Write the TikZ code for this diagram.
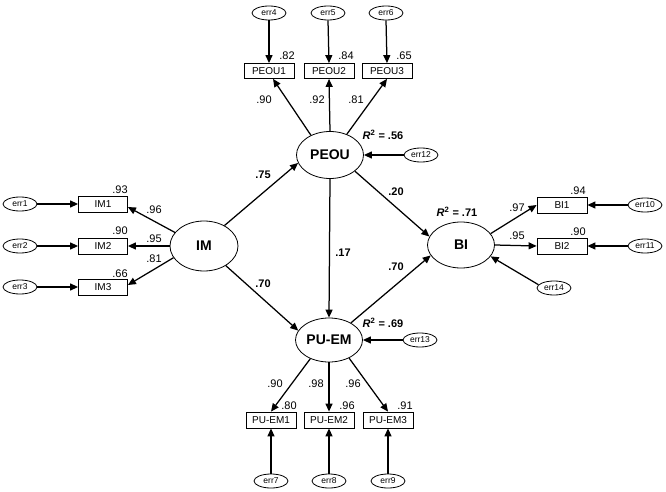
\documentclass[tikz,border=0pt]{standalone}
\usepackage{fontspec}
\setmainfont{Liberation Sans}
\usetikzlibrary{arrows.meta,shapes.geometric,calc}
\begin{document}
\begin{tikzpicture}[x=1pt,y=-1pt,
 lat/.style={ellipse,draw,line width=0.8pt,minimum width=67pt,minimum height=47pt,inner sep=0pt,font=\fontsize{14}{15}\selectfont\bfseries},
 ind/.style={rectangle,draw,line width=0.8pt,minimum width=50pt,minimum height=15pt,inner sep=0pt,font=\fontsize{10}{11}\selectfont},
 err/.style={ellipse,draw,line width=0.8pt,minimum width=34pt,minimum height=14pt,inner sep=0pt,font=\fontsize{8.5}{9}\selectfont},
 arr/.style={line width=1.25pt,-{Triangle[length=8pt,width=7pt]}},
 num/.style={font=\fontsize{11}{12}\selectfont,inner sep=0pt},
 bnum/.style={font=\fontsize{11}{12}\selectfont\bfseries,inner sep=0pt},
]
\useasboundingbox (0,0) rectangle (666,492);

% latent variables
\node[lat,minimum width=68pt,minimum height=50pt] (IM) at (204,246) {IM};
\node[lat] (PEOU) at (330,155) {PEOU};
\node[lat,minimum height=44pt] (PUEM) at (329,340) {PU-EM};
\node[lat,minimum height=46pt] (BI) at (461,245) {BI};

% indicators
\node[ind,minimum width=49pt,minimum height=16pt] (IM1) at (103,204) {IM1};
\node[ind,minimum width=49pt,minimum height=16pt] (IM2) at (103,246) {IM2};
\node[ind,minimum width=49pt,minimum height=16pt] (IM3) at (103,287) {IM3};
\node[ind] (PEOU1) at (269,71) {PEOU1};
\node[ind] (PEOU2) at (329,71) {PEOU2};
\node[ind] (PEOU3) at (387,71) {PEOU3};
\node[ind,minimum height=16pt] (PUEM1) at (271,420) {PU-EM1};
\node[ind,minimum height=16pt] (PUEM2) at (329,420) {PU-EM2};
\node[ind,minimum height=16pt] (PUEM3) at (388,420) {PU-EM3};
\node[ind,minimum height=16pt] (BI1) at (562,205) {BI1};
\node[ind,minimum height=16pt] (BI2) at (562,246) {BI2};

% error terms
\node[err] (e1) at (20,204) {err1};
\node[err] (e2) at (20,246) {err2};
\node[err] (e3) at (20,287) {err3};
\node[err] (e4) at (269,13) {err4};
\node[err] (e5) at (328,13) {err5};
\node[err] (e6) at (386,13) {err6};
\node[err] (e7) at (271,481) {err7};
\node[err] (e8) at (329,481) {err8};
\node[err] (e9) at (388,481) {err9};
\node[err] (e10) at (645,205) {err10};
\node[err] (e11) at (645,246) {err11};
\node[err] (e12) at (421,155) {err12};
\node[err] (e13) at (420,340) {err13};
\node[err] (e14) at (554,288) {err14};

% error arrows
\draw[arr] (e1.east) -- (IM1.west);
\draw[arr] (e2.east) -- (IM2.west);
\draw[arr] (e3.east) -- (IM3.west);
\draw[arr] (e4.south) -- (PEOU1.north);
\draw[arr] (e5.south) -- (PEOU2.north);
\draw[arr] (e6.south) -- (PEOU3.north);
\draw[arr] (e7.north) -- (PUEM1.south);
\draw[arr] (e8.north) -- (PUEM2.south);
\draw[arr] (e9.north) -- (PUEM3.south);
\draw[arr] (e10.west) -- (BI1.east);
\draw[arr] (e11.west) -- (BI2.east);
\draw[arr] (e12.west) -- (PEOU.east);
\draw[arr] (e13.west) -- (PUEM.east);
\draw[arr] (e14.168) -- (BI.339);

% loadings
\draw[arr] (IM.155) -- ($(IM1.east)+(0,3)$);
\draw[arr] (IM.west) -- (IM2.east);
\draw[arr] (IM.201) -- ($(IM3.east)+(0,-2)$);
\draw[arr] (PEOU.134) -- ($(PEOU1.south)+(4,0)$);
\draw[arr] (PEOU.north) -- (PEOU2.south);
\draw[arr] (PEOU.51) -- (PEOU3.south);
\draw[arr] (PUEM.225) -- (PUEM1.north);
\draw[arr] (PUEM.south) -- (PUEM2.north);
\draw[arr] (PUEM.318) -- (PUEM3.north);
\draw[arr] (BI.21) -- (BI1.west);
\draw[arr] (BI.east) -- (BI2.west);

% structural paths
\draw[arr] (IM.45) -- (PEOU.194);
\draw[arr] (IM.318) -- (PUEM.163);
\draw[arr] (PEOU.327) -- (BI.165);
\draw[arr] (PEOU.south) -- (PUEM.north);
\draw[arr] (PUEM.38) -- (BI.199);

% numbers
\node[num] (n1) at (120,190) {.93};
\node[num] (n2) at (120,231) {.90};
\node[num] (n3) at (120,274) {.66};
\node[num] (n4) at (154,210) {.96};
\node[num] (n5) at (154,239) {.95};
\node[num] (n6) at (154,259) {.81};
\node[num] (n7) at (287,56) {.82};
\node[num] (n8) at (346,56) {.84};
\node[num] (n9) at (404,56) {.65};
\node[num] (n10) at (264,100) {.90};
\node[num] (n11) at (317,100) {.92};
\node[num] (n12) at (356,100) {.81};
\node[bnum] (r1) at (383,135) {\textit{R}\textsuperscript{2} = .56};
\node[bnum] (n13) at (263,175) {.75};
\node[bnum] (n14) at (396,192) {.20};
\node[bnum] (n15) at (343,253) {.17};
\node[bnum] (n16) at (263,284) {.70};
\node[bnum] (n17) at (396,267) {.70};
\node[bnum] (r2) at (457,212) {\textit{R}\textsuperscript{2} = .71};
\node[num] (n18) at (517,208) {.97};
\node[num] (n19) at (517,236) {.95};
\node[num] (n20) at (578,191) {.94};
\node[num] (n21) at (578,232) {.90};
\node[bnum] (r3) at (383,323) {\textit{R}\textsuperscript{2} = .69};
\node[num] (n22) at (275,384) {.90};
\node[num] (n23) at (316,384) {.98};
\node[num] (n24) at (353,384) {.96};
\node[num] (n25) at (289,406) {.80};
\node[num] (n26) at (347,406) {.96};
\node[num] (n27) at (405,406) {.91};
\end{tikzpicture}
\end{document}
